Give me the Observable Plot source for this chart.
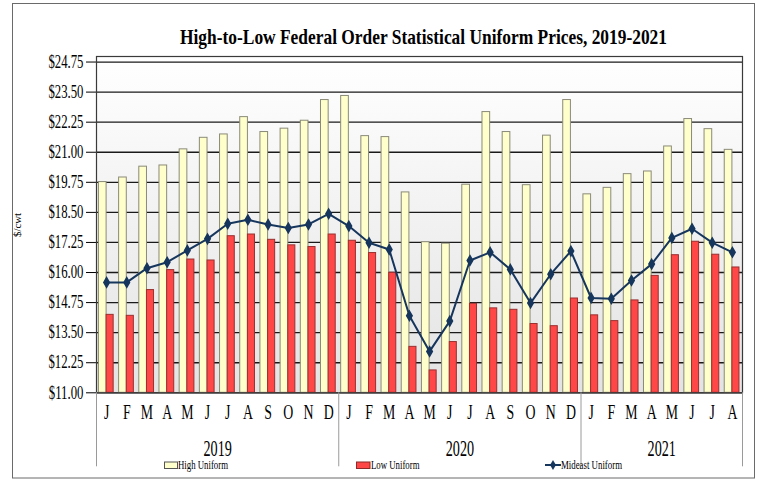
<!DOCTYPE html>
<html><head><meta charset="utf-8">
<script src="https://cdn.jsdelivr.net/npm/d3@7"></script>
<script src="https://cdn.jsdelivr.net/npm/@observablehq/plot@0.6"></script>
<style>body{margin:0;background:#fff}</style>
</head><body><div id="chart"></div>
<script>
const months = ["J","F","M","A","M","J","J","A","S","O","N","D",
                "J","F","M","A","M","J","J","A","S","O","N","D",
                "J","F","M","A","M","J","J","A"];
const years = ["2019","2020","2021"];
const yearMonthCounts = [12, 12, 8];
const high = [19.76,19.95,20.40,20.45,21.12,21.60,21.74,22.46,21.84,21.98,22.31,23.17,
              23.34,21.67,21.63,19.33,17.26,17.20,19.65,22.67,21.84,19.63,21.69,23.17,
              19.25,19.52,20.09,20.20,21.24,22.38,21.96,21.10];
const low = [14.24,14.20,15.27,16.10,16.54,16.50,17.51,17.58,17.36,17.13,17.06,17.58,
             17.32,16.81,15.99,12.91,11.93,13.11,14.70,14.51,14.45,13.86,13.77,14.92,
             14.22,13.98,14.84,15.86,16.72,17.28,16.74,16.21];
const mideast = [15.59,15.59,16.18,16.43,16.92,17.40,18.03,18.19,18.00,17.85,18.00,18.44,
                 17.93,17.24,16.96,14.20,12.72,13.98,16.50,16.84,16.13,14.73,15.93,16.89,
                 14.94,14.91,15.67,16.35,17.44,17.82,17.24,16.84];
const yTicks = [11.00,12.25,13.50,14.75,16.00,17.25,18.50,19.75,21.00,22.25,23.50,24.75];
const title = "High-to-Low Federal Order Statistical Uniform Prices, 2019-2021";
const yLabel = "$/cwt";
const seriesNames = ["High Uniform","Low Uniform","Mideast Uniform"];

const data = high.map((h, i) => ({i, month: months[i], high: h, low: low[i], mideast: mideast[i]}));
const yearStarts = [0];
yearMonthCounts.forEach(c => yearStarts.push(yearStarts[yearStarts.length - 1] + c));
const yearRows = years.map((y, k) => ({year: y, center: (yearStarts[k] + yearStarts[k + 1]) / 2}));

const W = 763, H = 481, mT = 56, mB = 88.7, mL = 96, mR = 21;
const NAVY = "#17365d";
const serif = "'Liberation Serif','Times New Roman',serif";

const chart = Plot.plot({
  width: W, height: H,
  marginLeft: mL, marginRight: mR, marginTop: mT, marginBottom: mB,
  x: {domain: [0, months.length], axis: null},
  y: {domain: [11, 24.98], ticks: yTicks, tickFormat: d => "$" + d.toFixed(2), tickSize: 10, tickPadding: 3, label: null},
  style: {fontFamily: serif, fontSize: "18px", color: "#000", background: "#fff", overflow: "visible"},
  marks: [
    Plot.frame({fill: "url(#plotBg)", stroke: "none"}),
    Plot.ruleY(yTicks, {stroke: "#1a1a1a", strokeWidth: 1.3}),
    Plot.rectY(data, {x1: d => d.i + 0.12, x2: d => d.i + 0.5, y1: 11, y2: "high", fill: "#ffffcc", stroke: "#8a8a78", strokeWidth: 1}),
    Plot.rectY(data, {x1: d => d.i + 0.5, x2: d => d.i + 0.85, y1: 11, y2: "low", fill: "#ff4747", stroke: "#9a3030", strokeWidth: 1}),
    Plot.line(data, {x: d => d.i + 0.5, y: "mideast", stroke: NAVY, strokeWidth: 2}),
    Plot.dot(data, {x: d => d.i + 0.5, y: "mideast", symbol: "diamond", r: 2.9, fill: NAVY, stroke: NAVY}),
    Plot.frame({stroke: "#3a3a3a", strokeWidth: 1.2}),
    Plot.ruleX(yearStarts, {stroke: "#9a9a9a", strokeWidth: 1, insetTop: H - mT - mB, insetBottom: -74}),
    Plot.text(data, {x: d => d.i + 0.5, text: "month", frameAnchor: "bottom", dy: 26, fontSize: 20}),
    Plot.text(yearRows, {x: "center", text: "year", frameAnchor: "bottom", dy: 63, fontSize: 24})
  ]
});
document.getElementById("chart").appendChild(chart);

const svg = d3.select(chart);
const defs = svg.insert("defs", ":first-child");
const grad = defs.append("linearGradient").attr("id", "plotBg").attr("x1", 0).attr("y1", 0).attr("x2", 0).attr("y2", 1);
grad.append("stop").attr("offset", "0%").attr("stop-color", "#ffffff");
grad.append("stop").attr("offset", "100%").attr("stop-color", "#e3e3e3");

// condense Times-like text as in the reference
svg.selectAll("text").each(function() {
  const t = this;
  const txt = t.textContent;
  const len = t.getComputedTextLength();
  let ratio = 0.71;
  if (years.includes(txt)) ratio = 0.59;
  else if (txt.length === 1) ratio = 0.69;
  t.setAttribute("textLength", (len * ratio).toFixed(1));
  t.setAttribute("lengthAdjust", "spacingAndGlyphs");
});

// outer border
svg.append("rect").attr("x", 12.5).attr("y", 3.5).attr("width", 742).attr("height", 474.5)
  .attr("fill", "none").attr("stroke", "#6a6a6a");

// title
svg.append("text").attr("x", 423.5).attr("y", 43.5).attr("text-anchor", "middle")
  .attr("font-family", serif).attr("font-weight", "bold").attr("font-size", 22)
  .attr("textLength", 487).attr("lengthAdjust", "spacingAndGlyphs").text(title);

// y label
svg.append("text").attr("transform", "translate(21,225) rotate(-90)").attr("text-anchor", "middle")
  .attr("font-family", serif).attr("font-size", 10).attr("textLength", 24).attr("lengthAdjust", "spacingAndGlyphs")
  .text(yLabel);

// legend
const lg = svg.append("g").attr("font-family", serif).attr("font-size", 12).attr("text-anchor", "start");
lg.append("rect").attr("x", 164.5).attr("y", 462).attr("width", 13).attr("height", 6.5).attr("fill", "#ffffcc").attr("stroke", "#555");
lg.append("text").attr("x", 178).attr("y", 468.8).attr("textLength", 50).attr("lengthAdjust", "spacingAndGlyphs").text(seriesNames[0]);
lg.append("rect").attr("x", 356.5).attr("y", 462).attr("width", 13.5).attr("height", 6.5).attr("fill", "#ff4747").attr("stroke", "#8a2a2a");
lg.append("text").attr("x", 371).attr("y", 468.8).attr("textLength", 48.5).attr("lengthAdjust", "spacingAndGlyphs").text(seriesNames[1]);
lg.append("line").attr("x1", 545).attr("x2", 561).attr("y1", 465).attr("y2", 465).attr("stroke", NAVY).attr("stroke-width", 2);
lg.append("path").attr("d", d3.symbol(d3.symbolDiamond, 30)()).attr("transform", "translate(553,465)").attr("fill", NAVY);
lg.append("text").attr("x", 561).attr("y", 468.8).attr("textLength", 61).attr("lengthAdjust", "spacingAndGlyphs").text(seriesNames[2]);
</script>
</body></html>
